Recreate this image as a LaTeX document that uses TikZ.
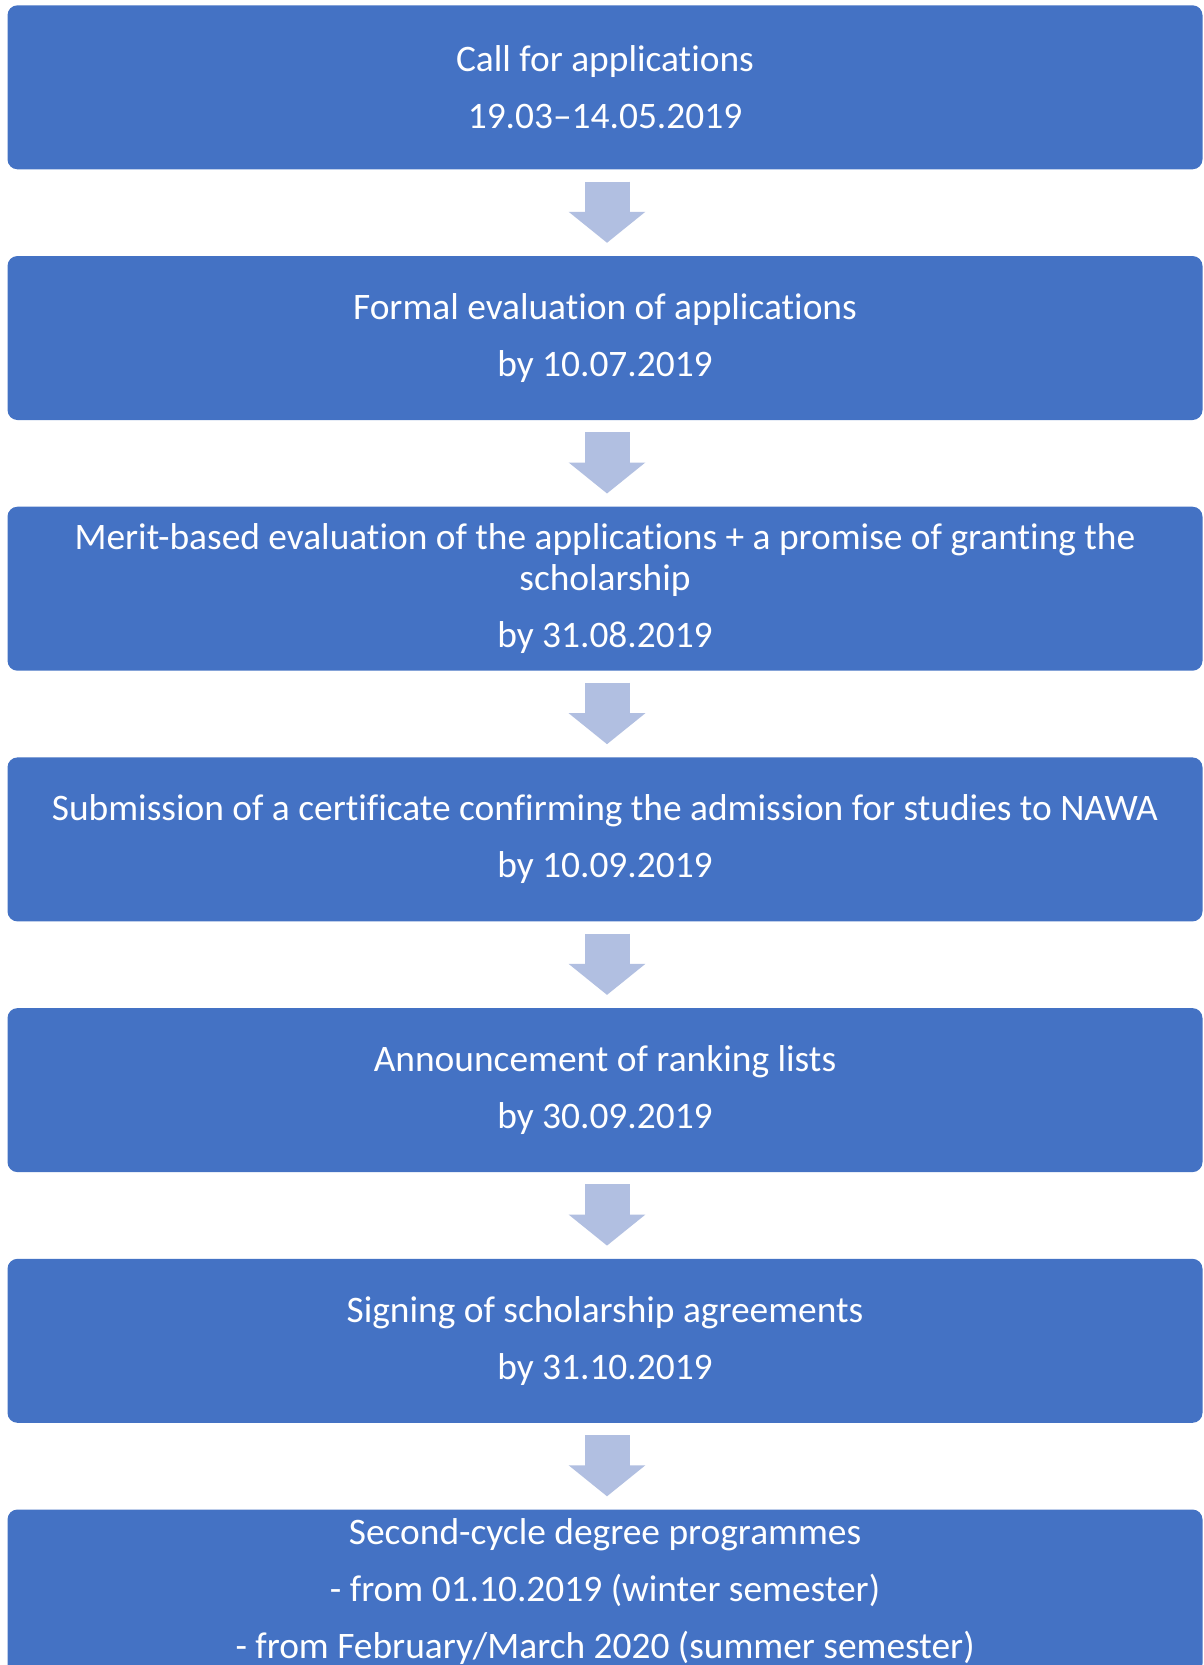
\documentclass[tikz,border=0pt]{standalone}
\usepackage{fontspec}
\setmainfont{Carlito}[RawFeature={-liga;-clig;-dlig;-calt;-rlig}]
\usetikzlibrary{arrows.meta}
\definecolor{boxblue}{HTML}{4472C4}
\definecolor{arrowblue}{HTML}{B1BFE1}
\tikzset{
  stepbox/.style={rectangle, rounded corners=10pt, fill=boxblue, text=white,
    minimum width=1195pt, minimum height=164pt, inner sep=0pt, align=center,
    font=\fontsize{37.4}{40.5}\selectfont},
  flowarrow/.style={draw=arrowblue, line width=45pt,
    -{Triangle[width=75pt,length=31pt]}, shorten <=12pt, shorten >=13pt}
}
\begin{document}
\begin{tikzpicture}[x=1pt,y=-1pt]
\useasboundingbox[fill=white] (0,0) rectangle (1203,1665);
\begin{scope}
\clip (0,0) rectangle (1203,1665);
\node[stepbox] (b1) at (605,87.3) {Call for applications\\[16.5pt]19.03–14.05.2019};
\node[stepbox] (b2) at (605,338.0) {Formal evaluation of applications\\[16.5pt]by 10.07.2019};
\node[stepbox] (b3) at (605,588.7) {Merit-based evaluation of the applications + a promise of granting the\\scholarship\\[16.5pt]by 31.08.2019};
\node[stepbox] (b4) at (605,839.4) {Submission of a certificate confirming the admission for studies to NAWA\\[16.5pt]by 10.09.2019};
\node[stepbox] (b5) at (605,1090.1) {Announcement of ranking lists\\[16.5pt]by 30.09.2019};
\node[stepbox] (b6) at (605,1340.8) {Signing of scholarship agreements\\[16.5pt]by 31.10.2019};
\node[stepbox] (b7) at (605,1591.5) {Second-cycle degree programmes\\[16.5pt]- from 01.10.2019 (winter semester)\\[16.5pt]- from February/March 2020 (summer semester)};
\draw[flowarrow] ([xshift=2pt]b1.south) -- ([xshift=2pt]b2.north);
\draw[flowarrow] ([xshift=2pt]b2.south) -- ([xshift=2pt]b3.north);
\draw[flowarrow] ([xshift=2pt]b3.south) -- ([xshift=2pt]b4.north);
\draw[flowarrow] ([xshift=2pt]b4.south) -- ([xshift=2pt]b5.north);
\draw[flowarrow] ([xshift=2pt]b5.south) -- ([xshift=2pt]b6.north);
\draw[flowarrow] ([xshift=2pt]b6.south) -- ([xshift=2pt]b7.north);
\end{scope}
\end{tikzpicture}
\end{document}
